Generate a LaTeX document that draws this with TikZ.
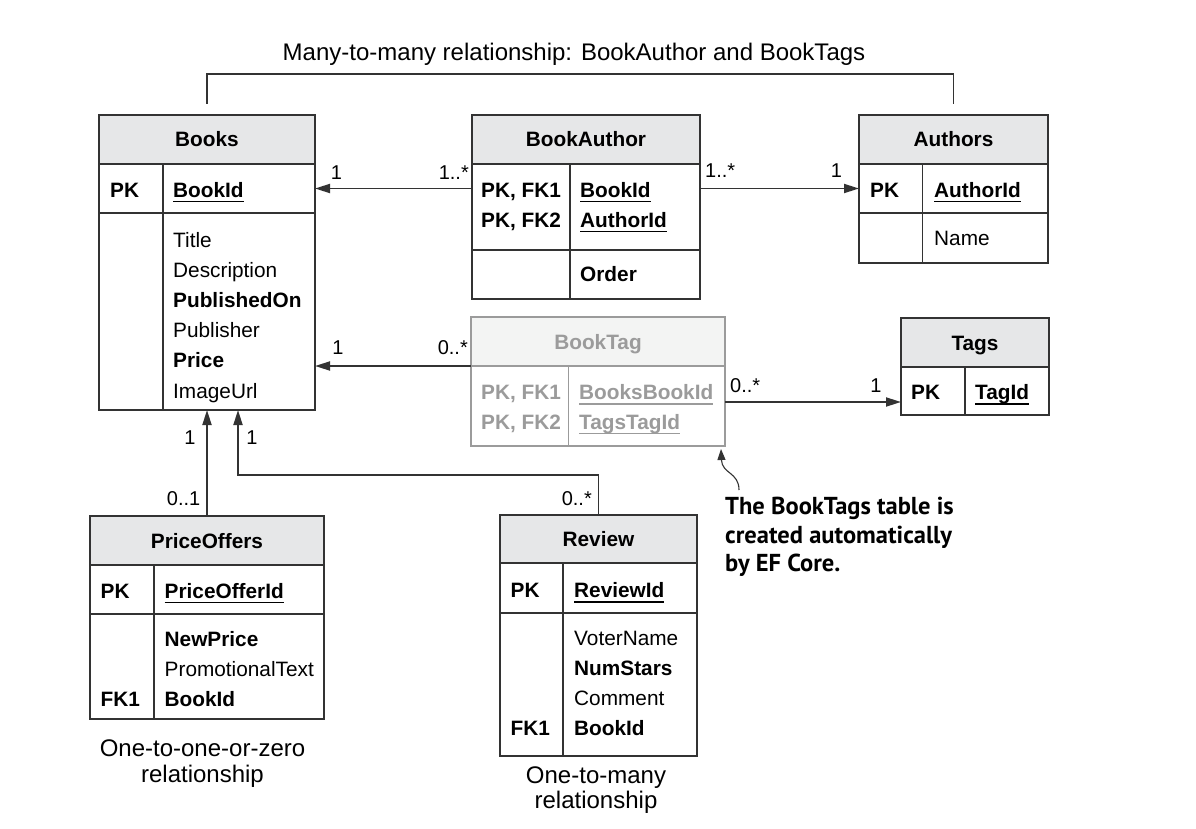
\documentclass[tikz,border=0pt]{standalone}
\usepackage{fontspec}
\setmainfont{Liberation Sans}
\newfontfamily\callfont{PT Sans}
\usetikzlibrary{arrows.meta}
\definecolor{bordc}{HTML}{333333}
\definecolor{hdrc}{HTML}{E6E7E8}
\definecolor{grayc}{HTML}{9B9B9B}
\definecolor{ghdrc}{HTML}{F3F4F3}
\newcommand\tabf{\fontsize{20.8}{25}\selectfont}
\newsavebox\ulbox
\newcommand\myul[1]{\sbox\ulbox{#1}\rlap{\rule[-5pt]{\wd\ulbox}{1.5pt}}\usebox\ulbox}
\begin{document}
\begin{tikzpicture}[x=1pt,y=-1pt,
  box/.style={draw=bordc, line width=1.8pt, inner sep=0pt, outer sep=0pt, anchor=north west},
  hdr/.style={box, fill=hdrc, font=\tabf\bfseries, text height=19pt, text depth=4pt},
  gbox/.style={box, draw=grayc},
  ghdr/.style={hdr, draw=grayc, fill=ghdrc, text=grayc},
  kt/.style={anchor=base west, inner sep=0pt, font=\tabf\bfseries},
  ft/.style={anchor=base west, inner sep=0pt, font=\tabf},
  fb/.style={anchor=base west, inner sep=0pt, font=\tabf\bfseries},
  sep/.style={draw=bordc, line width=1.8pt},
  gsep/.style={draw=grayc, line width=1.8pt},
  arr/.style={draw=bordc, line width=1.8pt, -{Triangle[length=15pt,width=9pt]}},
  carr/.style={draw=bordc, line width=1.1pt, -{Triangle[length=11pt,width=8pt]}},
  brk/.style={draw=bordc, line width=1.5pt},
  ml/.style={font=\fontsize{20}{24}\selectfont, inner sep=0pt, anchor=base},
  captxt/.style={font=\fontsize{24}{26}\selectfont, inner sep=0pt, anchor=base}
]
\fill[white] (0,0) rectangle (1196,829);
\useasboundingbox (0,0) rectangle (1196,829);

% ---------- title and bracket
\node[captxt] (title) at (574,61) {Many-to-many relationship: BookAuthor and BookTags};

% ---------- Books
\node[box, minimum width=216pt, minimum height=295pt] (books) at (99,115) {};
\node[hdr, minimum width=216pt, minimum height=49pt] (booksH) at (99,115) {Books};
\node[box, minimum width=216pt, minimum height=49pt] (booksPK) at (99,164) {};
\draw[sep] (163,164) -- (163,410);
\node[kt] (booksK1) at (110,197) {PK};
\node[fb] (booksF1) at (173,197) {\myul{BookId}};
\node[ft] (booksF2) at (173,247) {Title};
\node[ft] (booksF3) at (173,277.2) {Description};
\node[fb] (booksF4) at (173,307.4) {PublishedOn};
\node[ft] (booksF5) at (173,337.6) {Publisher};
\node[fb] (booksF6) at (173,367.8) {Price};
\node[ft] (booksF7) at (173,398) {ImageUrl};

% ---------- BookAuthor
\node[box, minimum width=228pt, minimum height=184pt] (ba) at (472,115) {};
\node[hdr, minimum width=228pt, minimum height=49pt] (baH) at (472,115) {BookAuthor};
\node[box, minimum width=228pt, minimum height=86pt] (baPK) at (472,164) {};
\draw[sep] (570,164) -- (570,299);
\node[kt] (baK1) at (481,197) {PK, FK1};
\node[kt] (baK2) at (481,227) {PK, FK2};
\node[fb] (baF1) at (580,197) {\myul{BookId}};
\node[fb] (baF2) at (580,227) {\myul{AuthorId}};
\node[fb] (baF3) at (580,281) {Order};

% ---------- Authors
\node[box, minimum width=189pt, minimum height=148pt] (authors) at (859,115) {};
\node[hdr, minimum width=189pt, minimum height=49pt] (authorsH) at (859,115) {Authors};
\node[box, minimum width=189pt, minimum height=49pt] (authPK) at (859,164) {};
\draw[sep] (922.5,164) -- (922.5,263);
\node[kt] (authK1) at (870,197) {PK};
\node[fb] (authF1) at (934,197) {\myul{AuthorId}};
\node[ft] (authF2) at (934,245.5) {Name};

% ---------- BookTag (grey)
\node[gbox, minimum width=254pt, minimum height=129pt] (bt) at (471,317) {};
\node[ghdr, minimum width=254pt, minimum height=49pt] (btH) at (471,317) {BookTag};
\draw[gsep] (568.5,366) -- (568.5,446);
\node[kt, text=grayc] (btK1) at (481,399.5) {PK, FK1};
\node[kt, text=grayc] (btK2) at (481,429) {PK, FK2};
\node[fb, text=grayc] (btF1) at (579,399.5) {\myul{BooksBookId}};
\node[fb, text=grayc] (btF2) at (579,429) {\myul{TagsTagId}};

% ---------- Tags
\node[box, minimum width=148pt, minimum height=97pt] (tags) at (901,318) {};
\node[hdr, minimum width=148pt, minimum height=49pt] (tagsH) at (901,318) {Tags};
\draw[sep] (965,367) -- (965,415);
\node[kt] (tagsK1) at (911,399.5) {PK};
\node[fb] (tagsF1) at (975,399.5) {\myul{TagId}};

% ---------- PriceOffers
\node[box, minimum width=234pt, minimum height=203pt] (po) at (90,516) {};
\node[hdr, minimum width=234pt, minimum height=49pt] (poH) at (90,516) {PriceOffers};
\node[box, minimum width=234pt, minimum height=49pt] (poPK) at (90,565) {};
\draw[sep] (154,565) -- (154,719);
\node[kt] (poK1) at (100.5,598) {PK};
\node[fb] (poF1) at (164.5,598) {\myul{PriceOfferId}};
\node[fb] (poF2) at (164.5,646) {NewPrice};
\node[ft] (poF3) at (164.5,676) {PromotionalText};
\node[kt] (poK2) at (100.5,706) {FK1};
\node[fb] (poF4) at (164.5,706) {BookId};

% ---------- Review
\node[box, minimum width=197pt, minimum height=241pt] (rv) at (500,515) {};
\node[hdr, minimum width=197pt, minimum height=48pt] (rvH) at (500,515) {Review};
\node[box, minimum width=197pt, minimum height=50pt] (rvPK) at (500,563) {};
\draw[sep] (563,563) -- (563,756);
\node[kt] (rvK1) at (510.5,597.7) {PK};
\node[fb] (rvF1) at (574,597.7) {\myul{ReviewId}};
\node[ft] (rvF2) at (574,645) {VoterName};
\node[fb] (rvF3) at (574,675) {NumStars};
\node[ft] (rvF4) at (574,705) {Comment};
\node[kt] (rvK2) at (510.5,735) {FK1};
\node[fb] (rvF5) at (574,735) {BookId};

% ---------- bracket
\draw[brk] ([yshift=11pt]books.north) |- ([yshift=41pt]authors.north) -- ([yshift=11pt]authors.north);

% ---------- connectors
\draw[arr] (ba.west |- booksPK.east) -- (booksPK.east);
\node[ml] (m1) at (336.5,179) {1};
\node[ml, anchor=base east] (m2) at (469,179) {1..*};

\draw[arr] (ba.east |- authPK.west) -- (authPK.west);
\node[ml, anchor=base west] (m3) at (705,178) {1..*};
\node[ml] (m4) at (836.5,178) {1};

\draw[arr] (btH.south west) -- (btH.south west -| books.east);
\node[ml] (m5) at (338,354) {1};
\node[ml, anchor=base east] (m6) at (468,354) {0..*};

\coordinate (btOut) at (bt.east |- 0,402);
\draw[arr] (btOut) -- (btOut -| tags.west);
\node[ml, anchor=base west] (m7) at (730,392) {0..*};
\node[ml] (m8) at (876,392) {1};

\draw[arr] (po.north) -- (po.north |- books.south);
\node[ml] (m9) at (190,444) {1};
\node[ml, anchor=base east] (m10) at (200.5,505) {0..1};

\coordinate (rvBend) at (238,475);
\draw[arr] (rv.north) |- (rvBend) -- (rvBend |- books.south);
\node[ml] (m11) at (252,444) {1};
\node[ml, anchor=base east] (m12) at (592,505) {0..*};

% ---------- captions
\node[captxt] (capA1) at (202.5,756) {One-to-one-or-zero};
\node[captxt] (capA2) at (202.5,782) {relationship};
\node[captxt] (capB1) at (596,783.5) {One-to-many};
\node[captxt] (capB2) at (596,808.5) {relationship};

% ---------- callout
\node[anchor=north west, inner sep=0pt, align=left,
      font=\callfont\bfseries\fontsize{24.5}{28.6}\selectfont] (note) at (725,497)
  {The BookTags table is\\created automatically\\by EF Core.};
\coordinate (noteTail) at (739,490);
\coordinate (btTip) at (721,449);
\draw[carr] (noteTail) .. controls (739,472) and (722,474) .. (btTip);
\end{tikzpicture}
\end{document}
